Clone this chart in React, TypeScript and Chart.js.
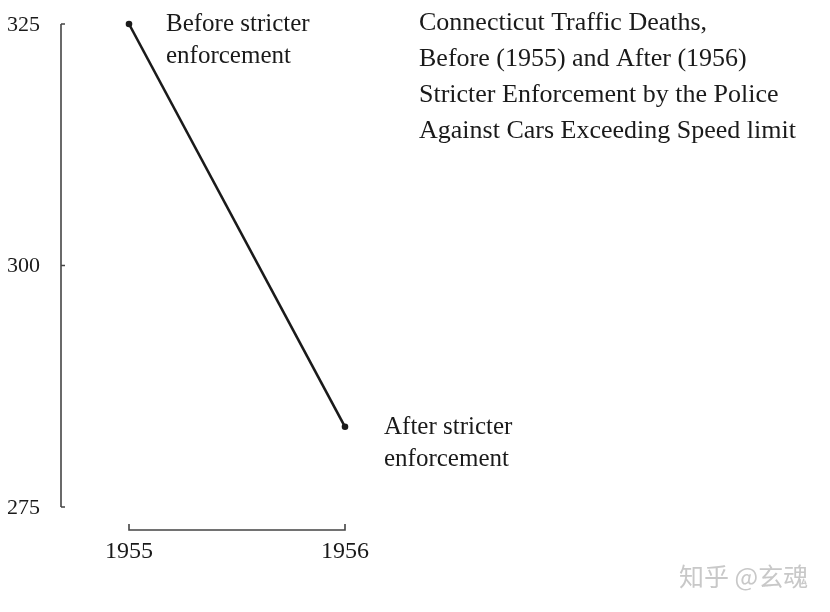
import React, { useEffect, useRef } from "react";
import { Chart, registerables } from "chart.js";

Chart.register(...registerables);

const years = ["1955", "1956"];
const deaths = [325, 283.3];
const yTicks = [325, 300, 275];
const yMin = 275;
const yMax = 325;
const titleLines = [
  "Connecticut Traffic Deaths,",
  "Before (1955) and After (1956)",
  "Stricter Enforcement by the Police",
  "Against Cars Exceeding Speed limit",
];
const beforeLabel = ["Before stricter", "enforcement"];
const afterLabel = ["After stricter", "enforcement"];
const watermark = "知乎 @玄魂";

const SERIF = '"Liberation Serif", "DejaVu Serif", serif';
const INK = "#1a1a1a";

const framePlugin = {
  id: "rangeFrame",
  afterDraw(chart: any) {
    const ctx = chart.ctx as CanvasRenderingContext2D;
    const x = chart.scales.x;
    const y = chart.scales.y;
    const yTop = y.getPixelForValue(yMax);
    const yBot = y.getPixelForValue(yMin);
    const axisX = 61;
    const x0 = x.getPixelForValue(0);
    const x1 = x.getPixelForValue(1);
    const axisY = 530;

    ctx.save();
    ctx.strokeStyle = "#444";
    ctx.lineWidth = 1.6;
    // y range frame
    ctx.beginPath();
    ctx.moveTo(axisX, yTop);
    ctx.lineTo(axisX, yBot);
    ctx.stroke();
    ctx.beginPath();
    yTicks.forEach((v) => {
      const py = y.getPixelForValue(v);
      ctx.moveTo(axisX, py);
      ctx.lineTo(axisX + 4, py);
    });
    ctx.stroke();
    // x range frame
    ctx.beginPath();
    ctx.moveTo(x0, axisY - 6);
    ctx.lineTo(x0, axisY);
    ctx.lineTo(x1, axisY);
    ctx.lineTo(x1, axisY - 6);
    ctx.stroke();

    ctx.fillStyle = INK;
    ctx.font = `22px ${SERIF}`;
    ctx.textBaseline = "middle";
    ctx.textAlign = "right";
    yTicks.forEach((v) => {
      ctx.fillText(String(v), 40, y.getPixelForValue(v) + 1);
    });
    ctx.font = `24px ${SERIF}`;
    ctx.textAlign = "center";
    years.forEach((lbl, i) => {
      ctx.fillText(lbl, x.getPixelForValue(i), 552);
    });

    // annotations
    ctx.textAlign = "left";
    ctx.textBaseline = "alphabetic";
    ctx.font = `25px ${SERIF}`;
    const p0 = chart.getDatasetMeta(0).data[0];
    const p1 = chart.getDatasetMeta(0).data[1];
    beforeLabel.forEach((t, i) => ctx.fillText(t, p0.x + 37, p0.y + 7 + i * 32));
    afterLabel.forEach((t, i) => ctx.fillText(t, p1.x + 39, p1.y + 7 + i * 32));

    // title
    ctx.font = `26px ${SERIF}`;
    titleLines.forEach((t, i) => ctx.fillText(t, 419, 30 + i * 36));

    // watermark
    ctx.fillStyle = "#c8c8c8";
    ctx.font = `25px "Noto Sans CJK SC", sans-serif`;
    ctx.fillText(watermark, 679, 586);
    ctx.restore();
  },
};

export default function App() {
  const ref = useRef<HTMLCanvasElement>(null);
  useEffect(() => {
    if (!ref.current) return;
    const chart = new Chart(ref.current, {
      type: "line",
      data: {
        labels: years,
        datasets: [
          {
            data: deaths,
            borderColor: INK,
            borderWidth: 2.6,
            pointRadius: 3.3,
            pointBackgroundColor: INK,
            pointBorderWidth: 0,
            clip: false,
          } as any,
        ],
      },
      options: {
        animation: false,
        responsive: false,
        maintainAspectRatio: false,
        layout: { padding: { left: 129, right: 830 - 345, top: 24, bottom: 612 - 507 } },
        plugins: { legend: { display: false }, tooltip: { enabled: false }, title: { display: false } },
        scales: {
          x: { type: "category", display: false, offset: false },
          y: { type: "linear", display: false, min: yMin, max: yMax },
        },
      },
      plugins: [framePlugin],
    });
    return () => chart.destroy();
  }, []);
  return (
    <div style={{ position: "fixed", left: 0, top: 0, width: 830, height: 612, background: "#fff" }}>
      <canvas ref={ref} width={830} height={612} style={{ width: 830, height: 612 }} />
    </div>
  );
}
